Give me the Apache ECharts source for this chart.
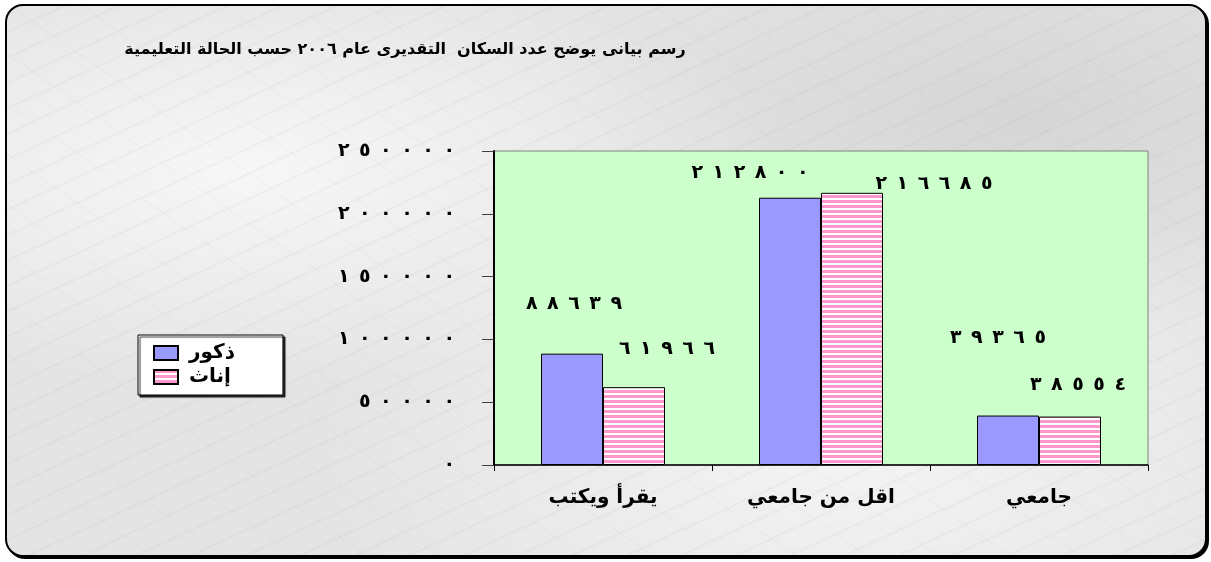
<!DOCTYPE html>
<html><head><meta charset="utf-8">
<script src="https://cdn.jsdelivr.net/npm/echarts@6/dist/echarts.min.js"></script>
<style>
html,body{margin:0;padding:0;background:#fff;}
#wrap{position:relative;width:1211px;height:562px;overflow:hidden;background:#fff;}
#frame{position:absolute;left:5px;top:4px;width:1198px;height:549px;border:2px solid #000;border-radius:18px;box-shadow:2px 2px 0 #000;
background:
 repeating-linear-gradient(155deg, rgba(150,150,150,0.10) 0px, rgba(255,255,255,0) 3px, rgba(255,255,255,0) 23px),
 repeating-linear-gradient(35deg, rgba(160,160,160,0.08) 0px, rgba(255,255,255,0) 2px, rgba(255,255,255,0) 41px),
 radial-gradient(ellipse at 20% 30%, rgba(255,255,255,0.7), rgba(255,255,255,0) 40%),
 radial-gradient(ellipse at 70% 80%, rgba(255,255,255,0.6), rgba(255,255,255,0) 45%),
 radial-gradient(ellipse at 85% 20%, rgba(200,200,200,0.5), rgba(255,255,255,0) 35%),
 #e4e4e4;}
#chart{position:absolute;left:0;top:0;width:1211px;height:562px;}
</style></head>
<body><div id="wrap"><div id="frame"></div><div id="chart"></div></div>
<script>
// ---- data ----
const titleText = 'رسم بيانى يوضح عدد السكان  التقديرى عام ٢٠٠٦ حسب الحالة التعليمية';
const categories = ['يقرأ ويكتب', 'اقل من جامعي', 'جامعي'];
const seriesNames = ['ذكور', 'إناث'];
const males = [88639, 212800, 39365];
const females = [61966, 216685, 38554];
const yMin = 0, yMax = 250000, yStep = 50000;

// ---- label placement (style, not data) ----
const maleLabelOffsets = [[2, -35], [-40, -10], [-10, -63]];
const femaleLabelOffsets = [[33, -24], [82, 6], [8, -17]];

const AR = '٠١٢٣٤٥٦٧٨٩';
function arDigits(n) {
  return String(n).split('').map(d => AR[+d]).join('\u200E\u2002');
}

const stripe = document.createElement('canvas');
stripe.width = 4; stripe.height = 5;
(function(){
  const c = stripe.getContext('2d');
  c.fillStyle = '#ffffff'; c.fillRect(0,0,4,5);
  c.fillStyle = '#FF99CC'; c.fillRect(0,0,4,3);
})();
const pinkPattern = { image: stripe, repeat: 'repeat' };

const FONT = '"DejaVu Sans", Arial, sans-serif';
const chart = echarts.init(document.getElementById('chart'), null, { renderer: 'canvas' });
chart.setOption({
  backgroundColor: 'transparent',
  textStyle: { fontFamily: FONT },
  title: {
    text: titleText, left: 400, top: 37, textAlign: 'center',
    textStyle: { fontFamily: FONT, fontSize: 16, fontWeight: 'bold', color: '#000' }
  },
  legend: {
    orient: 'vertical', left: 138, top: 335,
    data: seriesNames, align: 'left', icon: 'rect',
    itemWidth: 24, itemHeight: 14, itemGap: 4,
    padding: [8, 48, 8, 15],
    backgroundColor: '#fff', borderColor: '#000', borderWidth: 1,
    shadowColor: 'rgba(0,0,0,0.8)', shadowOffsetX: 2, shadowOffsetY: 2, shadowBlur: 1,
    textStyle: { fontFamily: FONT, fontSize: 20, fontWeight: 'bold', color: '#000', padding: [0, 0, 0, 6] }
  },
  grid: {
    left: 494, top: 151, width: 654, height: 314, containLabel: false,
    show: true, backgroundColor: '#CCFFCC', borderColor: '#808080', borderWidth: 1
  },
  xAxis: {
    type: 'category', data: categories,
    axisLine: { lineStyle: { color: '#000', width: 1.5 } },
    axisTick: { show: true, length: 6, lineStyle: { color: '#000' } },
    axisLabel: { margin: 23, color: '#000', fontFamily: FONT, fontSize: 20, fontWeight: 'bold' }
  },
  yAxis: {
    type: 'value', min: yMin, max: yMax, interval: yStep,
    axisLine: { show: true, lineStyle: { color: '#000', width: 2 } },
    axisTick: { show: true, length: 12, lineStyle: { color: '#404040' } },
    splitLine: { show: false },
    axisLabel: { margin: 39, color: '#000', fontFamily: FONT, fontSize: 19, fontWeight: 'bold',
      formatter: v => arDigits(v) }
  },
  series: [
    {
      name: seriesNames[0], type: 'bar', barWidth: 62, barGap: '0%',
      itemStyle: { color: '#9999FF', borderColor: '#000', borderWidth: 1 },
      label: { show: true, position: 'top', distance: 5, color: '#000', fontFamily: FONT,
        fontSize: 19, fontWeight: 'bold', formatter: p => arDigits(p.value) },
      data: males.map((v, i) => ({ value: v, label: { offset: maleLabelOffsets[i] } }))
    },
    {
      name: seriesNames[1], type: 'bar', barWidth: 62, barGap: '0%',
      itemStyle: { color: pinkPattern, borderColor: '#000', borderWidth: 1 },
      label: { show: true, position: 'top', distance: 5, color: '#000', fontFamily: FONT,
        fontSize: 19, fontWeight: 'bold', formatter: p => arDigits(p.value) },
      data: females.map((v, i) => ({ value: v, label: { offset: femaleLabelOffsets[i] } }))
    }
  ]
});
</script></body></html>
